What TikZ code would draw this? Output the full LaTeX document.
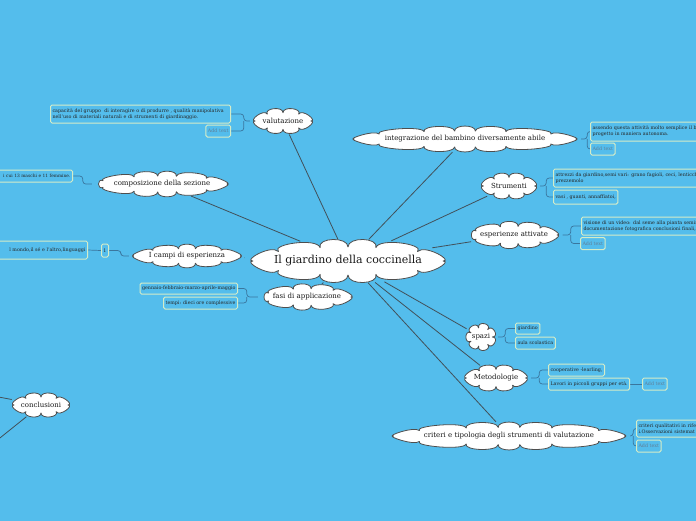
\documentclass[tikz,border=0pt]{standalone}
\usepackage{fontspec}
\setmainfont{DejaVu Serif}
\usetikzlibrary{shapes.geometric}
\pgfdeclarelayer{back}
\pgfsetlayers{back,main}
\definecolor{bgblue}{RGB}{84,189,236}
\definecolor{boxline}{RGB}{212,236,200}
\definecolor{mainline}{RGB}{66,80,90}
\definecolor{brline}{RGB}{58,118,158}
\definecolor{cloudline}{RGB}{78,78,78}
\definecolor{addtxt}{RGB}{96,128,152}
\newcommand{\cloudnode}[8]{%
  \pgfmathsetmacro{\cldh}{0.22*#5+1}%
  \pgfmathsetmacro{\cldrx}{#4/2-0.75*\cldh}%
  \pgfmathsetmacro{\cldry}{#5/2-0.75*\cldh}%
  \pgfmathsetmacro{\cldk}{0.7*(\cldrx-\cldry)/(\cldrx+\cldry)*28.648}%
  \filldraw[cloudst] ({#2+\cldrx},{#3})
    \foreach \i [evaluate=\i as \ua using (\i-1)*360/#6, evaluate=\i as \ub using \i*360/#6] in {1,...,#6} {
      .. controls ({#2+(\cldrx+\cldh)*cos(\ua+\cldk*sin(2*\ua))},{#3+(\cldry+\cldh)*sin(\ua+\cldk*sin(2*\ua))})
      and ({#2+(\cldrx+\cldh)*cos(\ub+\cldk*sin(2*\ub))},{#3+(\cldry+\cldh)*sin(\ub+\cldk*sin(2*\ub))})
      .. ({#2+\cldrx*cos(\ub+\cldk*sin(2*\ub))},{#3+\cldry*sin(\ub+\cldk*sin(2*\ub))})
    } -- cycle;
  \node[ellipse, inner sep=0pt, minimum width=#4pt, minimum height=#5pt, text=black!90, font=\fontsize{#7}{#7}\selectfont] (#1) at (#2,#3) {#8};
}
\begin{document}
\begin{tikzpicture}[x=1pt,y=-1pt,
  cloudst/.style={draw=cloudline, fill=white, line width=0.8pt, line join=round},
  bx/.style={draw=boxline, fill=bgblue, line width=1pt, rounded corners=1.5pt, inner sep=2pt, font=\fontsize{4.8}{6}\selectfont, text=black!85, align=left},
  addbx/.style={bx, text=addtxt, minimum height=12pt},
  conn/.style={draw=mainline, line width=0.8pt},
  brk/.style={draw=brline, line width=0.7pt, rounded corners=3pt}]
\useasboundingbox (0,0) rectangle (696,520);
\begin{pgfonlayer}{back}
\fill[bgblue] (-50,-50) rectangle (746,570);
\end{pgfonlayer}

% clouds
\cloudnode{ctr}{348}{261}{206}{44}{12}{11}{Il giardino della coccinella}
\cloudnode{val}{283}{121}{66}{27}{8}{7}{valutazione}
\cloudnode{comp}{162}{184}{140}{26}{11}{7}{composizione della sezione}
\cloudnode{campi}{187}{256}{116}{24}{10}{7}{I campi di esperienza}
\cloudnode{fasi}{307}{297}{98}{27}{9}{7}{fasi di applicazione}
\cloudnode{integ}{465}{139}{232}{26}{14}{7}{integrazione del bambino diversamente abile}
\cloudnode{strum}{509}{186}{62}{28}{8}{7}{Strumenti}
\cloudnode{esp}{514}{235}{97}{28}{9}{7}{esperienze attivate}
\cloudnode{spazi}{481}{337}{34}{30}{7}{7}{spazi}
\cloudnode{metod}{496}{378}{70}{28}{8}{7}{Metodologie}
\cloudnode{crit}{509}{436}{242}{28}{14}{7}{criteri e tipologia degli strumenti di valutazione}
\cloudnode{concl}{41}{405}{64}{26}{8}{7}{conclusioni}

% boxes
\node[bx, anchor=east, text width=176pt, minimum height=18pt] (v1) at (231,114) {capacità del gruppo \ di interagire o di produrre , qualità manipolativa\\nell'uso di materiali naturali e di strumenti di giardinaggio.};
\node[addbx, anchor=east] (v2) at (231,131) {Add text};
\node[bx, anchor=east, text width=90pt, align=right, minimum height=12pt, font=\fontsize{4.4}{6}\selectfont] (c1) at (73,176) {i cui 13 maschi e 11 femmine.};
\node[bx, anchor=center, minimum width=7pt, minimum height=13pt, inner sep=1pt] (k1) at (105,250.5) {1};
\node[bx, anchor=east, text width=100pt, align=right, minimum height=18pt] (k2) at (88,250) {l mondo,il sé e l'altro,linguaggi};
\node[bx, anchor=east, minimum height=11pt] (f1) at (238,288.5) {gennaio-febbraio-marzo-aprile-maggio};
\node[bx, anchor=east, minimum height=12pt] (f2) at (238,303) {tempi: dieci ore complessive};
\node[bx, anchor=west, text width=150pt, minimum height=19pt] (i1) at (590,131.5) {assendo questa attività molto semplice il bi\\progetto in maniera autonoma.};
\node[addbx, anchor=west] (i2) at (590,149) {Add text};
\node[bx, anchor=west, text width=170pt, minimum height=18pt] (s1) at (553,178) {attrezzi da giardino,semi vari: grano fagioli, ceci, lenticchie,\\prezzemolo};
\node[bx, anchor=west, minimum height=14pt] (s2) at (553,197) {vasi , guanti, annaffiatoi,};
\node[bx, anchor=west, text width=150pt, minimum height=18pt] (e1) at (581,226) {visione di un video: dal seme alla pianta semin\\documentazione fotografica conclusioni finali,};
\node[addbx, anchor=west] (e2) at (580,243.5) {Add text};
\node[bx, anchor=west, minimum height=11pt] (p1) at (515,328.5) {giardino};
\node[bx, anchor=west, minimum height=12pt] (p2) at (515,343) {aula scolastica};
\node[bx, anchor=west, minimum height=12pt] (m1) at (548,370) {cooperative -learling,};
\node[bx, anchor=west, minimum height=12pt] (m2) at (548,384) {Lavori in piccoli gruppi per età.};
\node[addbx, anchor=west] (m3) at (642,384) {Add text};
\node[bx, anchor=west, text width=90pt, minimum height=17pt] (r1) at (636,428.5) {criteri qualitativi in rife\\i.Osservazioni sistemat};
\node[addbx, anchor=west] (r2) at (636,446) {Add text};

\coordinate (cA) at (-12,395);
\coordinate (cB) at (-30,462);

\begin{pgfonlayer}{back}
\foreach \n in {val,comp,campi,fasi,integ,strum,esp,spazi,metod,crit}
  \draw[conn] (\n) -- (ctr);
\draw[conn] (cA) -- (concl);
\draw[conn] (concl) -- (cB);
\draw[brk] (val.west) -- ++(-6,0) coordinate (vb) |- (v1.east);
\draw[brk] (vb) |- (v2.east);
\draw[brk] (comp.west) -- ++(-9,0) coordinate (cb) |- (c1.east);
\draw[brk] (campi.west) -- ++(-8,0) coordinate (kb) |- (k1.east);
\draw[brk] (k1.west) -- (k2.east);
\draw[brk] (fasi.west) -- ++(-11,0) coordinate (fb) |- (f1.east);
\draw[brk] (fb) |- (f2.east);
\draw[brk] (integ.east) -- ++(6,0) coordinate (ib) |- (i1.west);
\draw[brk] (ib) |- (i2.west);
\draw[brk] (strum.east) -- ++(6,0) coordinate (sb) |- (s1.west);
\draw[brk] (sb) |- (s2.west);
\draw[brk] (esp.east) -- ++(8,0) coordinate (eb) |- (e1.west);
\draw[brk] (eb) |- (e2.west);
\draw[brk] (spazi.east) -- ++(7,0) coordinate (pb) |- (p1.west);
\draw[brk] (pb) |- (p2.west);
\draw[brk] (metod.east) -- ++(8,0) coordinate (mb) |- (m1.west);
\draw[brk] (mb) |- (m2.west);
\draw[brk] (m2.east) -- (m3.west);
\draw[brk] (crit.east) -- ++(3,0) coordinate (rb) |- (r1.west);
\draw[brk] (rb) |- (r2.west);
\end{pgfonlayer}
\end{tikzpicture}
\end{document}
